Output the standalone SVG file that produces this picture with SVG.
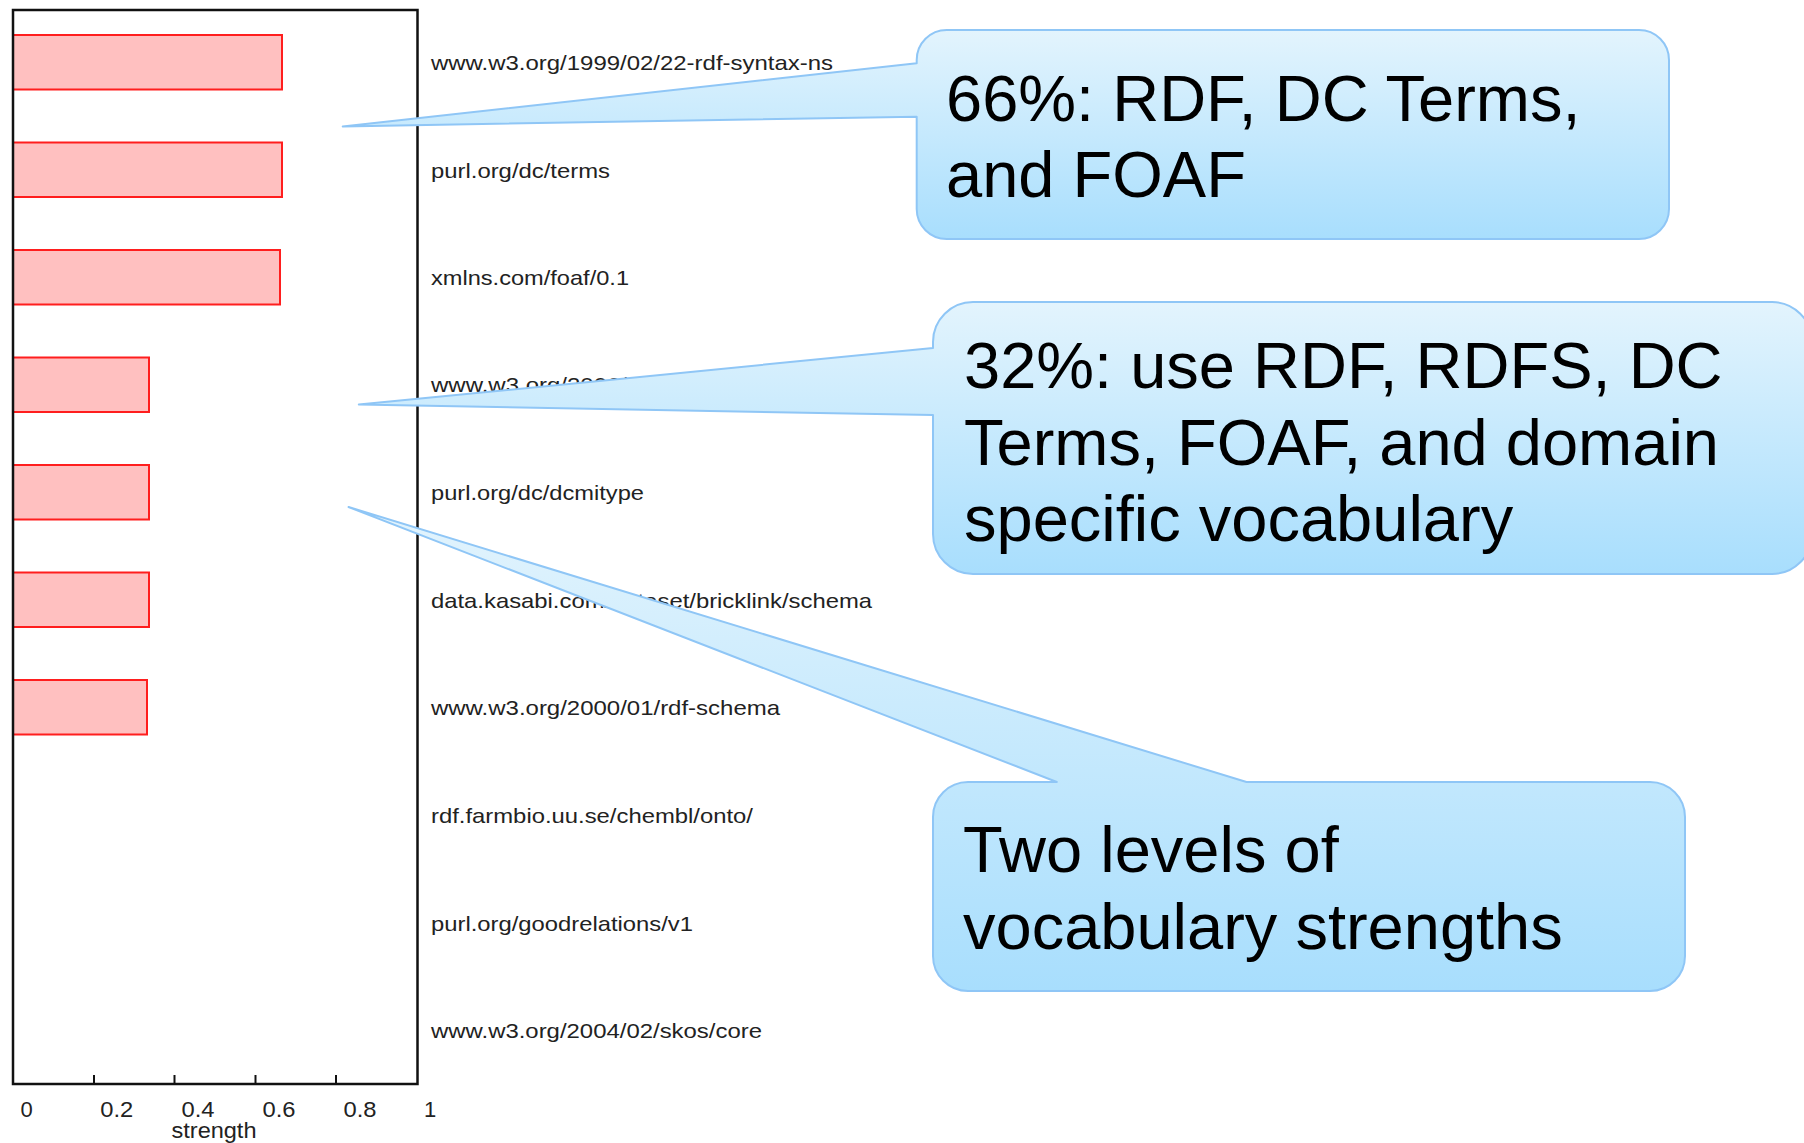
<svg xmlns="http://www.w3.org/2000/svg" width="1804" height="1143" viewBox="0 0 1804 1143">
  <defs>
    <linearGradient id="calloutFill" x1="0" y1="0" x2="0" y2="1">
      <stop offset="0" stop-color="#e3f4fd"/>
      <stop offset="1" stop-color="#a8defd"/>
    </linearGradient>
    <style>
      .frame { fill: none; stroke: #111; stroke-width: 2.5; }
      .tick { stroke: #111; stroke-width: 2; }
      .bar { fill: #ffc0c0; stroke: #ff1e1e; stroke-width: 2; }
      .lbl { font-family: "Liberation Sans", Arial, sans-serif; font-size: 21px; fill: #222; }
      .axis { font-family: "Liberation Sans", Arial, sans-serif; font-size: 22px; fill: #222; text-anchor: middle; }
      .bubble { fill: url(#calloutFill); stroke: #8fc6f6; stroke-width: 2; stroke-linejoin: round; }
      .note { font-family: "Liberation Sans", Arial, sans-serif; font-size: 65px; fill: #000; }
    </style>
  </defs>
  <rect width="1804" height="1143" fill="#fff"/>

  <!-- bar chart of vocabulary strength -->
  <g id="chart">
    <g id="bars">
      <rect class="bar" x="13" y="35" width="269" height="54.5"/>
      <rect class="bar" x="13" y="142.5" width="269" height="54.5"/>
      <rect class="bar" x="13" y="250" width="267" height="54.5"/>
      <rect class="bar" x="13" y="357.5" width="136" height="54.5"/>
      <rect class="bar" x="13" y="465" width="136" height="54.5"/>
      <rect class="bar" x="13" y="572.5" width="136" height="54.5"/>
      <rect class="bar" x="13" y="680" width="134" height="54.5"/>
    </g>
    <rect class="frame" x="13" y="10" width="404.5" height="1074"/>
    <g id="ticks">
      <line class="tick" x1="94" y1="1075" x2="94" y2="1084"/>
      <line class="tick" x1="174.5" y1="1075" x2="174.5" y2="1084"/>
      <line class="tick" x1="255.5" y1="1075" x2="255.5" y2="1084"/>
      <line class="tick" x1="336" y1="1075" x2="336" y2="1084"/>
    </g>
    <g id="vocab-labels">
      <text class="lbl" x="431" y="70" textLength="402" lengthAdjust="spacingAndGlyphs">www.w3.org/1999/02/22-rdf-syntax-ns</text>
      <text class="lbl" x="431" y="177.5" textLength="179" lengthAdjust="spacingAndGlyphs">purl.org/dc/terms</text>
      <text class="lbl" x="431" y="285" textLength="198" lengthAdjust="spacingAndGlyphs">xmlns.com/foaf/0.1</text>
      <text class="lbl" x="431" y="392" textLength="196" lengthAdjust="spacingAndGlyphs">www.w3.org/2006/</text>
      <text class="lbl" x="431" y="500" textLength="213" lengthAdjust="spacingAndGlyphs">purl.org/dc/dcmitype</text>
      <text class="lbl" x="431" y="608" textLength="441" lengthAdjust="spacingAndGlyphs">data.kasabi.com/dataset/bricklink/schema</text>
      <text class="lbl" x="431" y="715" textLength="349" lengthAdjust="spacingAndGlyphs">www.w3.org/2000/01/rdf-schema</text>
      <text class="lbl" x="431" y="823" textLength="322" lengthAdjust="spacingAndGlyphs">rdf.farmbio.uu.se/chembl/onto/</text>
      <text class="lbl" x="431" y="931" textLength="262" lengthAdjust="spacingAndGlyphs">purl.org/goodrelations/v1</text>
      <text class="lbl" x="431" y="1038" textLength="331" lengthAdjust="spacingAndGlyphs">www.w3.org/2004/02/skos/core</text>
    </g>
    <g id="axis-labels">
      <text class="axis" x="26.7" y="1117">0</text>
      <text class="axis" x="116.7" y="1117" textLength="33" lengthAdjust="spacingAndGlyphs">0.2</text>
      <text class="axis" x="198" y="1117" textLength="33" lengthAdjust="spacingAndGlyphs">0.4</text>
      <text class="axis" x="279" y="1117" textLength="33" lengthAdjust="spacingAndGlyphs">0.6</text>
      <text class="axis" x="360" y="1117" textLength="33" lengthAdjust="spacingAndGlyphs">0.8</text>
      <text class="axis" x="430" y="1117">1</text>
      <text class="axis" x="214" y="1138" textLength="85" lengthAdjust="spacingAndGlyphs">strength</text>
    </g>
  </g>

  <!-- callout bubbles; each tail is drawn as part of the bubble outline -->
  <g id="connectors"/>

  <g id="callout-66">
    <path class="bubble" d="M 946.7 30 H 1639 A 30 30 0 0 1 1669 60 V 209 A 30 30 0 0 1 1639 239 H 946.7 A 30 30 0 0 1 916.7 209 V 116.7 L 342.7 126.4 L 916.7 63.3 V 60 A 30 30 0 0 1 946.7 30 Z"/>
    <text class="note" x="946" y="120.7">66%: RDF, DC Terms,</text>
    <text class="note" x="946" y="196.7">and FOAF</text>
  </g>

  <g id="callout-32">
    <path class="bubble" d="M 973 302 H 1772 A 40 40 0 0 1 1812 342 V 534 A 40 40 0 0 1 1772 574 H 973 A 40 40 0 0 1 933 534 V 415 L 358.8 404.6 L 933 348 V 342 A 40 40 0 0 1 973 302 Z"/>
    <text class="note" x="964" y="388">32%: use RDF, RDFS, DC</text>
    <text class="note" x="964" y="464.5">Terms, FOAF, and domain</text>
    <text class="note" x="964" y="541">specific vocabulary</text>
  </g>

  <g id="callout-levels">
    <path class="bubble" d="M 968 782 H 1056.8 L 348.5 507 L 1246.5 782 H 1650 A 35 35 0 0 1 1685 817 V 956 A 35 35 0 0 1 1650 991 H 968 A 35 35 0 0 1 933 956 V 817 A 35 35 0 0 1 968 782 Z"/>
    <text class="note" x="963" y="872">Two levels of</text>
    <text class="note" x="963" y="948.5">vocabulary strengths</text>
  </g>
</svg>
